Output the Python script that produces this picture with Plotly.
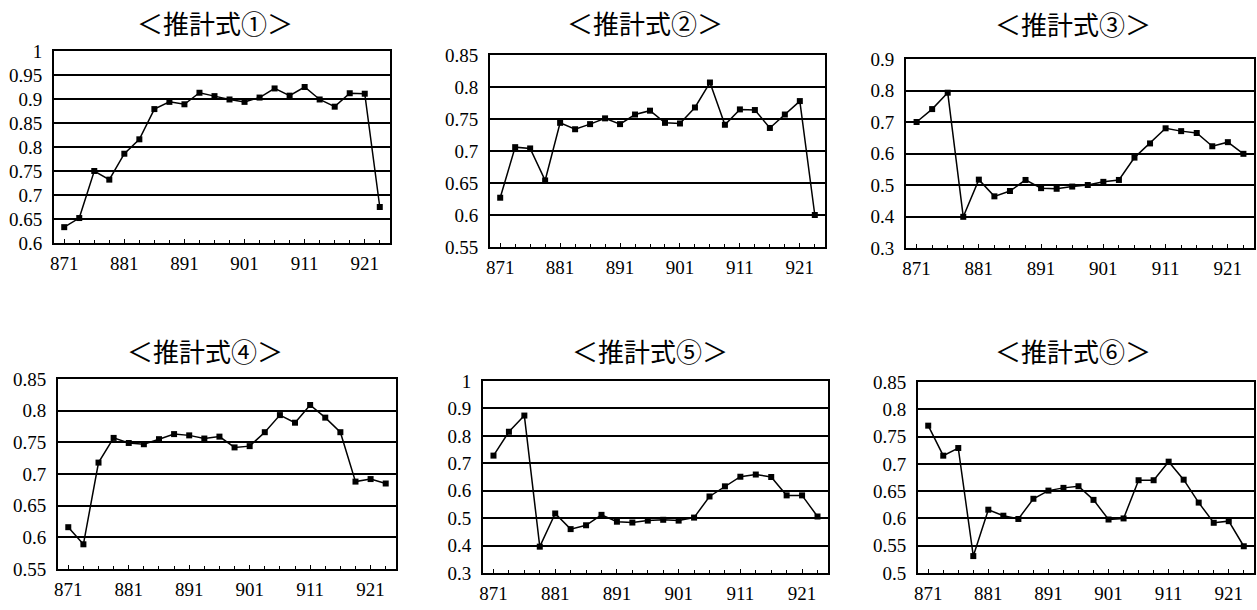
import plotly.graph_objects as go

# x positions (categories every 2.5 units starting at 871)
x_years = [871 + 2.5 * i for i in range(22)]
tick_labels = [871, 881, 891, 901, 911, 921]

titles = ["＜推計式①＞", "＜推計式②＞", "＜推計式③＞", "＜推計式④＞", "＜推計式⑤＞", "＜推計式⑥＞"]

s1 = [0.633, 0.652, 0.750, 0.732, 0.786, 0.816, 0.879, 0.894, 0.889, 0.913, 0.906,
      0.899, 0.894, 0.903, 0.922, 0.907, 0.925, 0.899, 0.884, 0.912, 0.911, 0.675]
s2 = [0.627, 0.706, 0.704, 0.654, 0.744, 0.734, 0.742, 0.751, 0.742, 0.757, 0.763,
      0.744, 0.743, 0.768, 0.807, 0.741, 0.765, 0.764, 0.736, 0.757, 0.778, 0.600]
s3 = [0.700, 0.741, 0.793, 0.399, 0.517, 0.464, 0.481, 0.516, 0.490, 0.488, 0.495,
      0.500, 0.510, 0.516, 0.587, 0.632, 0.680, 0.671, 0.665, 0.623, 0.636, 0.599]
s4 = [0.616, 0.589, 0.718, 0.757, 0.749, 0.747, 0.755, 0.763, 0.761, 0.756, 0.759,
      0.742, 0.744, 0.766, 0.793, 0.781, 0.809, 0.789, 0.766, 0.688, 0.692, 0.685]
s5 = [0.728, 0.815, 0.874, 0.396, 0.517, 0.460, 0.474, 0.512, 0.487, 0.484, 0.491,
      0.494, 0.491, 0.502, 0.579, 0.616, 0.651, 0.659, 0.650, 0.583, 0.583, 0.506]
s6 = [0.770, 0.715, 0.729, 0.531, 0.616, 0.605, 0.599, 0.636, 0.651, 0.656, 0.659,
      0.634, 0.598, 0.600, 0.670, 0.670, 0.704, 0.671, 0.629, 0.592, 0.595, 0.549]

series = [s1, s2, s3, s4, s5, s6]
y_ranges = [(0.6, 1.0), (0.55, 0.85), (0.3, 0.9), (0.55, 0.85), (0.3, 1.0), (0.5, 0.85)]
y_dticks = [0.05, 0.05, 0.1, 0.05, 0.1, 0.05]

W, H = 1257, 610
# plot-area boxes in pixels: left, right, top, bottom
boxes = [(54, 390, 51, 243), (490, 825, 55, 247), (906, 1254, 59, 248),
         (58, 396, 379, 569), (483, 828, 381, 573), (918, 1254, 382, 573)]
title_pos = [(215, 23), (645, 23), (1073, 24), (205, 351), (650, 351), (1073, 351)]

fig = go.Figure()
num_font = dict(family="'Liberation Serif', 'Times New Roman', serif", size=19, color="black")

for i in range(6):
    n = "" if i == 0 else str(i + 1)
    xa, ya = "x" + n, "y" + n
    fig.add_trace(go.Scatter(
        x=x_years, y=series[i], xaxis=xa, yaxis=ya, mode="lines+markers",
        line=dict(color="black", width=1.5),
        marker=dict(symbol="square", size=6, color="black"),
        showlegend=False, hoverinfo="x+y"))
    l, r, t, b = boxes[i]
    fig.layout["xaxis" + n] = dict(
        domain=[l / W, r / W], anchor=ya, range=[869.3, 925.2], automargin=False,
        tickmode="array", tickvals=tick_labels, ticktext=[str(v) for v in tick_labels],
        ticks="inside", ticklen=4, tickcolor="black", tickwidth=1,
        minor=dict(tickmode="linear", tick0=871, dtick=2.5, ticks="inside", ticklen=3,
                   tickcolor="black", showgrid=False),
        showline=True, linecolor="black", linewidth=2, mirror=True,
        showgrid=False, zeroline=False, tickfont=num_font, ticklabelstandoff=2,
        fixedrange=True)
    y0, y1 = y_ranges[i]
    fig.layout["yaxis" + n] = dict(
        domain=[1 - b / H, 1 - t / H], anchor=xa, range=[y0, y1], automargin=False,
        tickmode="linear", tick0=y0, dtick=y_dticks[i],
        showline=True, linecolor="black", linewidth=2, mirror=True,
        showgrid=True, gridcolor="black", gridwidth=1.5, zeroline=False,
        ticks="", tickfont=num_font, ticklabelstandoff=6, fixedrange=True)
    tx, ty = title_pos[i]
    fig.add_annotation(text=titles[i], x=tx / W, y=1 - ty / H, xref="paper", yref="paper",
                       showarrow=False, xanchor="center", yanchor="middle",
                       font=dict(family="Noto Sans CJK JP", size=26, color="black"))

fig.update_layout(width=W, height=H, margin=dict(l=0, r=0, t=0, b=0),
                  paper_bgcolor="white", plot_bgcolor="white")

fig.write_html("out.html", config={"displayModeBar": False},
               post_script="document.body.style.margin='0';")
